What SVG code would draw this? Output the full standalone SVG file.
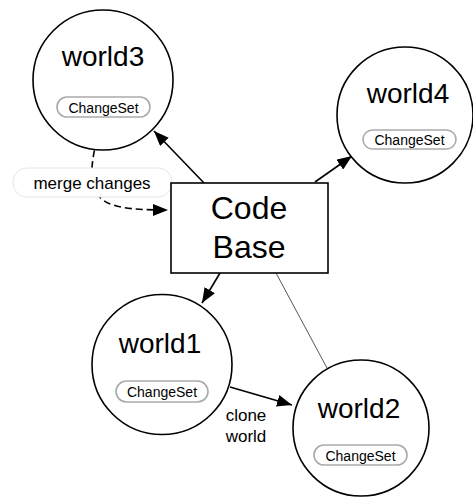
<svg xmlns="http://www.w3.org/2000/svg" width="473" height="497" viewBox="0 0 473 497">
<style>
text{font-family:"Liberation Sans",Arial,sans-serif;fill:#000}
.world{fill:#fff;stroke:#000;stroke-width:1.6}
.wl{font-size:28px;text-anchor:middle}
.pill{fill:#fff;stroke:#aaa;stroke-width:1.6}
.pt{font-size:14px;text-anchor:middle}
.edge{fill:none;stroke:#000;stroke-width:1.6}
</style>
<defs>
<marker id="ah" markerUnits="userSpaceOnUse" markerWidth="16" markerHeight="12" refX="15" refY="6" orient="auto">
<path d="M0,0 L15,6 L0,12 z" fill="#000"/>
</marker>
</defs>
<rect width="473" height="497" fill="#fff"/>
<g id="connectors">
<line class="edge" x1="204" y1="183" x2="154" y2="131" marker-end="url(#ah)"/>
<line class="edge" x1="315" y1="182" x2="352" y2="156" marker-end="url(#ah)"/>
<line class="edge" x1="220" y1="273" x2="202" y2="303" marker-end="url(#ah)"/>
<line x1="276" y1="273" x2="327" y2="368" stroke="#444" stroke-width="0.9"/>
<line class="edge" x1="230" y1="387" x2="292" y2="405" marker-end="url(#ah)"/>
<path class="edge" d="M102,118 C80,200 90,210 168,210" stroke-dasharray="7,4" marker-end="url(#ah)"/>
</g>
<g id="merge-label">
<rect x="13" y="168" width="159" height="29" rx="14" fill="#fff" stroke="#e6e6e6" stroke-width="1"/>
<text x="92" y="189" font-size="17" text-anchor="middle">merge changes</text>
</g>
<g id="clone-label">
<text x="246" y="421" font-size="17" text-anchor="middle">clone</text>
<text x="246" y="442" font-size="17" text-anchor="middle">world</text>
</g>
<g id="codebase">
<rect x="171" y="183" width="157" height="90" fill="#fff" stroke="#000" stroke-width="1.6"/>
<text x="249" y="219" font-size="32" text-anchor="middle">Code</text>
<text x="249" y="258" font-size="32" text-anchor="middle">Base</text>
</g>
<g id="world3">
<circle class="world" cx="103" cy="80" r="70"/>
<text class="wl" x="103" y="66">world3</text>
<rect class="pill" x="57" y="97" width="93" height="20" rx="10"/>
<text class="pt" x="103.5" y="112.5">ChangeSet</text>
</g>
<g id="world4">
<circle class="world" cx="405" cy="115" r="68"/>
<text class="wl" x="408" y="103">world4</text>
<rect class="pill" x="363" y="130" width="93" height="19" rx="9.5"/>
<text class="pt" x="409.5" y="145">ChangeSet</text>
</g>
<g id="world1">
<circle class="world" cx="162" cy="364.5" r="70"/>
<text class="wl" x="160" y="353">world1</text>
<rect class="pill" x="116" y="381" width="92" height="21" rx="10.5"/>
<text class="pt" x="162" y="397">ChangeSet</text>
</g>
<g id="world2">
<circle class="world" cx="361" cy="428" r="68"/>
<text class="wl" x="359" y="418">world2</text>
<rect class="pill" x="314" y="445" width="93" height="20" rx="10"/>
<text class="pt" x="360.5" y="460.5">ChangeSet</text>
</g>
</svg>
